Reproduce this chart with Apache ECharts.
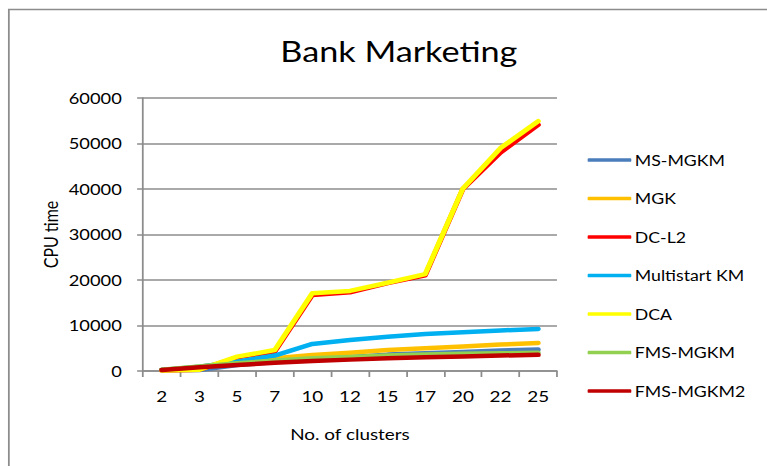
<!DOCTYPE html>
<html>
<head>
<meta charset="utf-8">
<script src="https://cdn.jsdelivr.net/npm/echarts@6/dist/echarts.min.js"></script>
<style>
  html, body { margin: 0; padding: 0; background: #fff; overflow: hidden; }
  #wrap { width: 767px; height: 466px; overflow: hidden; }
  /* the chart is laid out narrower and widened to the page, giving the wide lettering */
  #chart { width: 650px; height: 466px; transform: scaleX(1.18); transform-origin: 0 0; }
</style>
</head>
<body>
<div id="wrap"><div id="chart"></div></div>
<script>
// Number of clusters on the x axis
const clusters = ['2', '3', '5', '7', '10', '12', '15', '17', '20', '22', '25'];

// CPU time per method
const msMgkm      = [200, 200, 1300, 2000, 2700, 3100, 3600, 3900, 4200, 4500, 4700];
const mgk         = [200, 950, 2000, 2800, 3500, 4000, 4600, 5000, 5400, 5800, 6150];
const dcL2        = [100, 300, 3000, 4250, 16700, 17300, 19300, 21050, 40000, 48000, 54100];
const multistart  = [200, 950, 2050, 3400, 5950, 6800, 7550, 8150, 8500, 8900, 9250];
const dca         = [100, 300, 3150, 4600, 17100, 17600, 19400, 21300, 40100, 49000, 54900];
const fmsMgkm     = [300, 1000, 1700, 2300, 2800, 3100, 3400, 3600, 3800, 3900, 4000];
const fmsMgkm2    = [200, 800, 1300, 1800, 2200, 2500, 2800, 3000, 3200, 3400, 3550];

const yTicks = { min: 0, max: 60000, interval: 10000 };

const FONT = 'Lato';

function line(name, data, color) {
  return {
    name: name,
    type: 'line',
    data: data,
    showSymbol: false,
    symbol: 'none',
    lineStyle: { color: color, width: 4.5, cap: 'round', join: 'round' },
    itemStyle: { color: color },
    emphasis: { disabled: true }
  };
}

const chart = echarts.init(document.getElementById('chart'), null, { renderer: 'svg' });
chart.setOption({
  animation: false,
  backgroundColor: '#fff',
  textStyle: { fontFamily: FONT },
  title: {
    text: 'Bank Marketing',
    left: 333,
    top: 32,
    textAlign: 'center',
    textStyle: { fontFamily: FONT, fontSize: 29, fontWeight: 'normal', color: '#000' }
  },
  graphic: [{
    type: 'rect',
    shape: { x: 7.5, y: 9.5, width: 700, height: 500 },
    style: { fill: 'none', stroke: '#8c8c8c', lineWidth: 1.5 },
    silent: true
  }],
  legend: {
    orient: 'vertical',
    left: 493,
    top: 147,
    itemWidth: 37,
    itemHeight: 3.5,
    itemGap: 22.5,
    icon: 'roundRect',
    textStyle: { fontFamily: FONT, fontSize: 15, lineHeight: 16, color: '#000', padding: [0, 0, 0, -2] },
    data: ['MS-MGKM', 'MGK', 'DC-L2', 'Multistart KM', 'DCA', 'FMS-MGKM', 'FMS-MGKM2']
  },
  grid: { left: 121.2, right: 178, top: 98, bottom: 95, containLabel: false },
  xAxis: {
    type: 'category',
    data: clusters,
    boundaryGap: true,
    name: 'No. of clusters',
    nameLocation: 'middle',
    nameGap: 55,
    nameTextStyle: { fontFamily: FONT, fontSize: 16, color: '#000' },
    axisLine: { lineStyle: { color: '#8c8c8c', width: 1.5 } },
    axisTick: { show: true, alignWithLabel: false, length: 6, lineStyle: { color: '#8c8c8c', width: 1.5 } },
    axisLabel: { fontFamily: FONT, fontSize: 16, color: '#000', margin: 17 }
  },
  yAxis: {
    type: 'value',
    min: yTicks.min,
    max: yTicks.max,
    interval: yTicks.interval,
    name: 'CPU time',
    nameLocation: 'middle',
    nameGap: 70,
    nameMoveOverlap: false,
    nameRotate: 90,
    nameTextStyle: { fontFamily: FONT, fontSize: 16, color: '#000' },
    axisLine: { show: true, lineStyle: { color: '#8c8c8c', width: 1.5 } },
    axisTick: { show: true, length: 5, lineStyle: { color: '#8c8c8c', width: 1.5 } },
    splitLine: { lineStyle: { color: '#8c8c8c', width: 1.5 } },
    axisLabel: { fontFamily: FONT, fontSize: 15.5, color: '#000', margin: 18, formatter: v => String(v) }
  },
  series: [
    line('MS-MGKM', msMgkm, '#4a7ebb'),
    line('MGK', mgk, '#ffc000'),
    line('DC-L2', dcL2, '#ff0000'),
    line('Multistart KM', multistart, '#00b0f0'),
    line('DCA', dca, '#ffff00'),
    line('FMS-MGKM', fmsMgkm, '#92d050'),
    line('FMS-MGKM2', fmsMgkm2, '#c00000')
  ]
});
</script>
</body>
</html>
